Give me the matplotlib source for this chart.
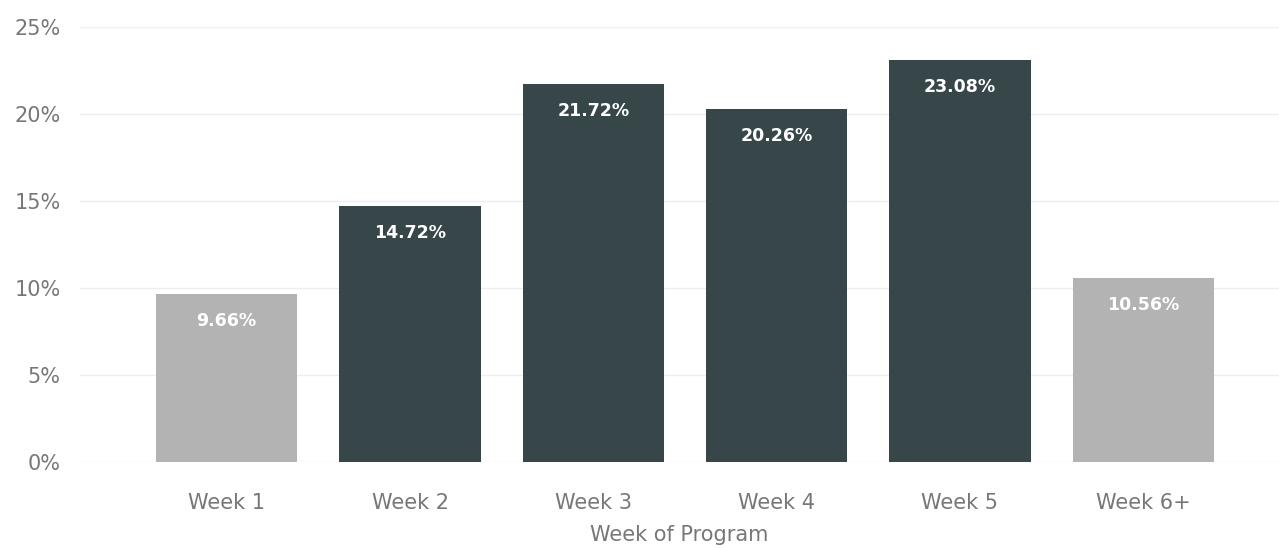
import matplotlib.pyplot as plt
import numpy as np

weeks = ['Week 1', 'Week 2', 'Week 3', 'Week 4', 'Week 5', 'Week 6+']
share = [9.66, 14.72, 21.72, 20.26, 23.08, 10.56]
highlight = [False, True, True, True, True, False]

dark = '#374649'
grey = '#b3b3b3'

fig = plt.figure(figsize=(12.79, 5.48), dpi=100)
ax = fig.add_axes([80 / 1279, (548 - 462) / 548, (1279 - 80) / 1279, 435 / 548])

x = np.arange(len(weeks))
colors = [dark if h else grey for h in highlight]
bars = ax.bar(x, share, width=0.77, color=colors, zorder=2)

for xi, v in zip(x, share):
    ax.annotate(f'{v:.2f}%', (xi, v), xytext=(0, -27), textcoords='offset pixels',
                ha='center', va='center', color='white', fontsize=12.5,
                fontweight='bold', family='DejaVu Sans')

ax.set_xlim(-0.80, 5.74)
ax.set_ylim(0, 25)
ax.set_yticks([0, 5, 10, 15, 20, 25])
ax.set_yticklabels([f'{t}%' for t in [0, 5, 10, 15, 20, 25]])
ax.set_xticks(x)
ax.set_xticklabels(weeks)

ax.grid(axis='y', color='#eeeeee', linewidth=1, zorder=0)
for s in ax.spines.values():
    s.set_visible(False)
ax.tick_params(length=0, labelsize=15, colors='#777777')
ax.tick_params(axis='y', pad=14)
ax.tick_params(axis='x', pad=22)
ax.set_xlabel('Week of Program', fontsize=15, color='#777777', labelpad=9)

fig.savefig('out.png', dpi=100)
